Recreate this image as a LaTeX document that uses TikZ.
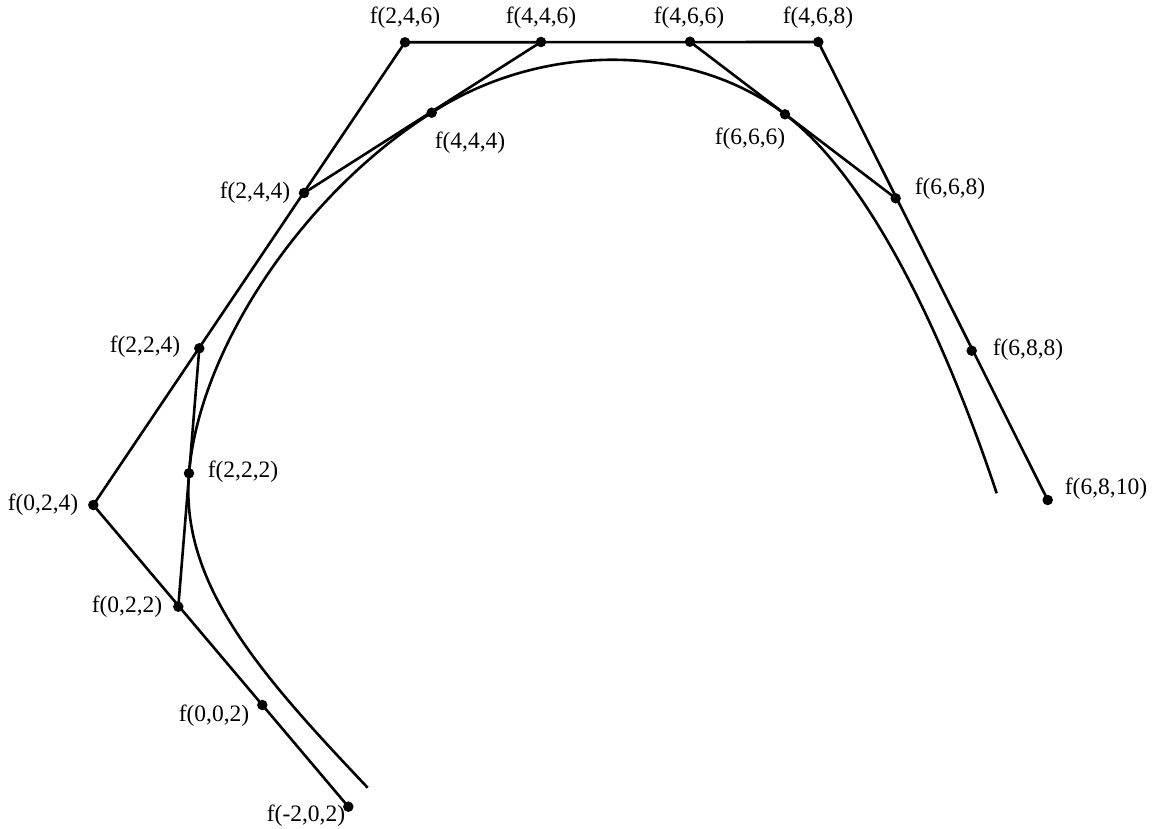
\documentclass[tikz,border=0pt]{standalone}
\usepackage{fontspec}
\setmainfont{Liberation Serif}
\begin{document}
\begin{tikzpicture}[x=1pt,y=-1pt,
  line width=2.6pt, line join=round,
  dot/.style={circle,fill=black,inner sep=0pt,minimum size=10.5pt},
  lbl/.style={inner sep=0pt,font=\fontsize{23.5}{27}\selectfont}]
\useasboundingbox (0,0) rectangle (1154,829);

% control points
\node[dot] (a) at (348.3,806.7) {};   % f(-2,0,2)
\node[dot] (b) at (262.3,705) {};     % f(0,0,2)
\node[dot] (c) at (178.3,606.7) {};   % f(0,2,2)
\node[dot] (d) at (93.3,505) {};      % f(0,2,4)
\node[dot] (e) at (189,473.3) {};     % f(2,2,2)
\node[dot] (g) at (199.3,348.3) {};   % f(2,2,4)
\node[dot] (h) at (304,193) {};       % f(2,4,4)
\node[dot] (i) at (405,42.3) {};      % f(2,4,6)
\node[dot] (j) at (431.7,112.7) {};   % f(4,4,4)
\node[dot] (k) at (541,42) {};        % f(4,4,6)
\node[dot] (l) at (690,41.7) {};      % f(4,6,6)
\node[dot] (m) at (818.3,42) {};      % f(4,6,8)
\node[dot] (n) at (785,114.3) {};     % f(6,6,6)
\node[dot] (o) at (895.7,198.3) {};   % f(6,6,8)
\node[dot] (p) at (971.7,350.7) {};   % f(6,8,8)
\node[dot] (q) at (1047.7,500) {};    % f(6,8,10)

% curve end points
\coordinate (cs) at (367.7,787.7);
\coordinate (ce) at (996.7,493.3);

% de Boor polygon
\draw (a.center) -- (d.center) -- (i.center) -- (m.center) -- (q.center);
% second-level polygons
\draw (c.center) -- (g.center);
\draw (h.center) -- (k.center);
\draw (l.center) -- (o.center);

% spline curve
\draw (cs) .. controls (258,672) and (180,583) .. (e.center)
      .. controls (g.center) and (h.center) .. (j.center)
      .. controls (k.center) and (l.center) .. (n.center)
      .. controls (880.6,186.9) and (955.6,369.9) .. (ce);

% labels
\node[lbl] (la) at (306,816) {f(-2,0,2)};
\node[lbl] (lb) at (214,716) {f(0,0,2)};
\node[lbl] (lc) at (127,607) {f(0,2,2)};
\node[lbl] (ld) at (43,505) {f(0,2,4)};
\node[lbl] (le) at (243,472) {f(2,2,2)};
\node[lbl] (lg) at (145,347) {f(2,2,4)};
\node[lbl] (lh) at (255,193) {f(2,4,4)};
\node[lbl] (li) at (405,18) {f(2,4,6)};
\node[lbl] (lj) at (470,143) {f(4,4,4)};
\node[lbl] (lk) at (541,18) {f(4,4,6)};
\node[lbl] (ll) at (689,18) {f(4,6,6)};
\node[lbl] (lm) at (818,18) {f(4,6,8)};
\node[lbl] (ln) at (750,139) {f(6,6,6)};
\node[lbl] (lo) at (950,189) {f(6,6,8)};
\node[lbl] (lp) at (1028,350) {f(6,8,8)};
\node[lbl] (lq) at (1106,489) {f(6,8,10)};
\end{tikzpicture}
\end{document}
